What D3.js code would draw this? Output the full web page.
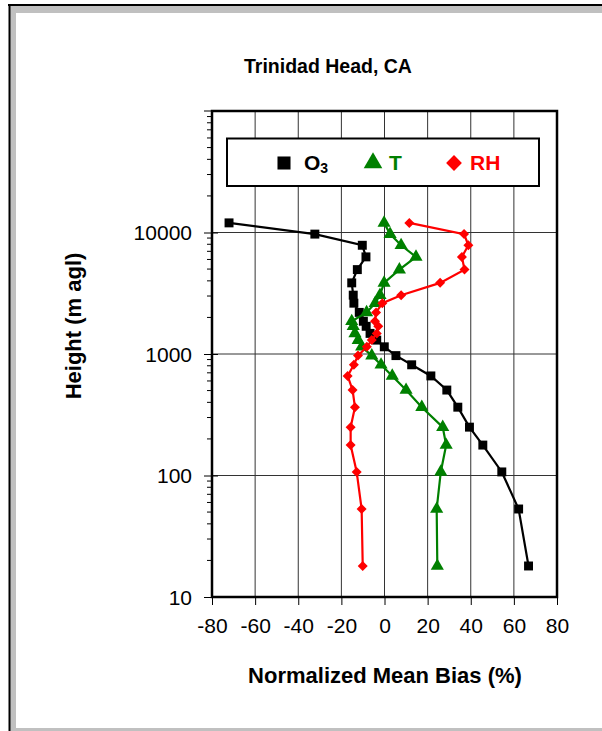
<!DOCTYPE html>
<html>
<head>
<meta charset="utf-8">
<script src="https://cdn.jsdelivr.net/npm/d3@7"></script>
<style>
  body { margin: 0; background: #fff; }
  text { font-family: "Liberation Sans", Arial, sans-serif; }
</style>
</head>
<body>
<svg width="602" height="731"></svg>
<script>
// heights (m agl) of the profile levels
var heights = [18, 53, 107, 178, 250, 365, 505, 660, 815, 970, 1146, 1301, 1478, 1690, 1860, 2200, 2620, 3050, 3850, 4950, 6300, 7850, 9700, 12000];
// normalized mean bias (%)
var o3 = [66.8, 62.2, 54.4, 45.6, 39.4, 34.0, 28.9, 21.5, 12.6, 5.3, -0.1, -3.6, -6.7, -8.5, -9.8, -11.7, -14.2, -14.5, -15.2, -12.6, -8.6, -10.3, -32.3, -72.1];
var temp = [24.5, 24.2, 26.1, 28.6, 27.0, 17.3, 10.0, 3.6, -1.6, -5.9, -10.6, -12.2, -13.7, -14.5, -15.2, -8.3, -4.3, -2.1, -0.2, 6.9, 14.6, 7.7, 2.6, -0.2];
var rh = [-10.1, -10.6, -12.9, -15.7, -15.7, -13.7, -14.8, -17.1, -14.2, -12.3, -8.2, -5.9, -3.6, -2.9, -4.4, -3.9, -1.0, 7.7, 25.8, 37.1, 35.9, 38.9, 36.9, 11.5];

var xTicks = [-80, -60, -40, -20, 0, 20, 40, 60, 80];
var yTicks = [10, 100, 1000, 10000, 100000];

var svg = d3.select("svg");

// window frame
svg.append("rect").attr("x", 9).attr("y", 5).attr("width", 593).attr("height", 726).attr("fill", "#c0c0c0");
svg.append("rect").attr("x", 16).attr("y", 13).attr("width", 586).attr("height", 715).attr("fill", "#fff");
svg.append("line").attr("x1", 9.5).attr("x2", 9.5).attr("y1", 5).attr("y2", 731).attr("stroke", "#000").attr("stroke-width", 2);
svg.append("line").attr("x1", 8).attr("x2", 602).attr("y1", 5).attr("y2", 5).attr("stroke", "#000").attr("stroke-width", 2);

var x = d3.scaleLinear().domain([-80, 80]).range([212, 557]);
var y = d3.scaleLog().domain([10, 100000]).range([597, 111]);

// grid
svg.append("g").selectAll("line").data(xTicks).enter().append("line")
    .attr("x1", function(d) { return x(d); }).attr("x2", function(d) { return x(d); })
    .attr("y1", 111).attr("y2", 597)
    .attr("stroke", "#333").attr("stroke-width", 1);
svg.append("g").selectAll("line").data(yTicks).enter().append("line")
    .attr("x1", 212).attr("x2", 557)
    .attr("y1", function(d) { return y(d); }).attr("y2", function(d) { return y(d); })
    .attr("stroke", "#333").attr("stroke-width", 1);

// minor ticks on y
var minor = [];
[10, 100, 1000, 10000].forEach(function(dec) {
  for (var k = 2; k <= 9; k++) minor.push(dec * k);
});
svg.append("g").selectAll("line").data(minor).enter().append("line")
    .attr("x1", 207).attr("x2", 212)
    .attr("y1", function(d) { return y(d); }).attr("y2", function(d) { return y(d); })
    .attr("stroke", "#000").attr("stroke-width", 1);

// axes
var xAxis = svg.append("g")
    .attr("transform", "translate(0,597)")
    .call(d3.axisBottom(x).tickValues(xTicks).tickSize(8).tickPadding(13).tickFormat(function(d) { return String(d); }));
var yAxis = svg.append("g")
    .attr("transform", "translate(212,0)")
    .call(d3.axisLeft(y).tickValues(yTicks.slice(0, 4)).tickSize(8).tickPadding(12).tickFormat(function(d) { return String(d); }));
[xAxis, yAxis].forEach(function(a) {
  a.select(".domain").remove();
  a.selectAll("text").attr("font-size", 21).attr("fill", "#000")
    .style("font-family", "'Liberation Sans', Arial, sans-serif");
  a.selectAll(".tick line").attr("stroke", "#000");
});
yAxis.selectAll("text").attr("dy", "0.35em");
yAxis.selectAll(".tick line").attr("x1", 6);
svg.append("line").attr("x1", 204).attr("x2", 212).attr("y1", y(100000)).attr("y2", y(100000)).attr("stroke", "#000");

// plot border
svg.append("rect").attr("x", 212).attr("y", 111).attr("width", 345).attr("height", 486)
    .attr("fill", "none").attr("stroke", "#000").attr("stroke-width", 2.5);

// series (diamond = square turned 45 degrees)
var series = [
  { name: "O3", values: o3, color: "#000000", symbol: d3.symbolSquare, size: 80, rot: 0 },
  { name: "T", values: temp, color: "#008000", symbol: d3.symbolTriangle, size: 75, rot: 0 },
  { name: "RH", values: rh, color: "#ff0000", symbol: d3.symbolSquare, size: 50, rot: 45 }
];

var line = d3.line()
    .x(function(d) { return x(d[0]); })
    .y(function(d) { return y(d[1]); });

series.forEach(function(s) {
  var pts = s.values.map(function(v, i) { return [v, heights[i]]; });
  svg.append("path").datum(pts)
      .attr("d", line)
      .attr("fill", "none")
      .attr("stroke", s.color)
      .attr("stroke-width", 2.2);
  svg.append("g").selectAll("path").data(pts).enter().append("path")
      .attr("d", d3.symbol().type(s.symbol).size(s.size))
      .attr("transform", function(d) { return "translate(" + x(d[0]) + "," + y(d[1]) + ") rotate(" + s.rot + ")"; })
      .attr("fill", s.color);
});

// legend
svg.append("rect").attr("x", 227).attr("y", 138.5).attr("width", 312).attr("height", 47.5)
    .attr("fill", "#fff").attr("stroke", "#000").attr("stroke-width", 2);
var legendPos = [
  { mx: 284, tx: 304, size: 170 },
  { mx: 373, tx: 389, size: 150 },
  { mx: 454, tx: 470, size: 125 }
];
series.forEach(function(s, i) {
  svg.append("path")
      .attr("d", d3.symbol().type(s.symbol).size(legendPos[i].size))
      .attr("transform", "translate(" + legendPos[i].mx + ",163) rotate(" + s.rot + ")")
      .attr("fill", s.color);
  var t = svg.append("text")
      .attr("x", legendPos[i].tx).attr("y", 169.5)
      .attr("font-size", 21).attr("font-weight", "bold").attr("fill", s.color);
  if (s.name === "O3") {
    t.append("tspan").text("O");
    t.append("tspan").attr("font-size", 14).attr("dy", 3).text("3");
  } else {
    t.text(s.name);
  }
});

// titles
svg.append("text").attr("x", 328).attr("y", 73).attr("text-anchor", "middle")
    .attr("font-size", 19.5).attr("font-weight", "bold").text("Trinidad Head, CA");
svg.append("text").attr("x", 385).attr("y", 683).attr("text-anchor", "middle")
    .attr("font-size", 22).attr("font-weight", "bold").text("Normalized Mean Bias (%)");
svg.append("text").attr("transform", "translate(81,326) rotate(-90)").attr("text-anchor", "middle")
    .attr("font-size", 22).attr("font-weight", "bold").text("Height (m agl)");
</script>
</body>
</html>
